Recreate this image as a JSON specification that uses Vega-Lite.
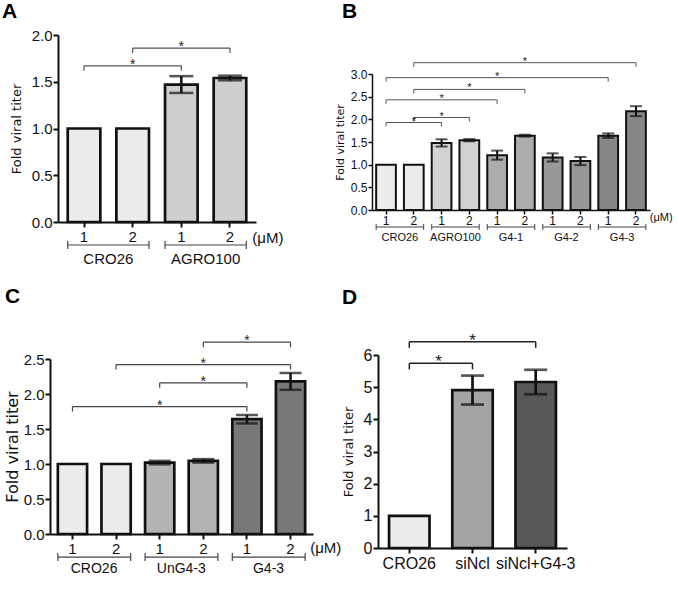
{
  "$schema": "https://vega.github.io/schema/vega-lite/v6.json",
  "padding": {"left": 2, "top": 1, "right": 0, "bottom": 0},
  "background": "white",
  "bounds": "flush",
  "spacing": 320,
  "resolve": {"scale": {"fill": "independent"}},
  "datasets": {
    "barsA": [
      {"bar": "CRO26 1", "group": "CRO26", "value": 1, "err": 0},
      {"bar": "CRO26 2", "group": "CRO26", "value": 1, "err": 0},
      {"bar": "AGRO100 1", "group": "AGRO100", "value": 1.47, "err": 0.09},
      {"bar": "AGRO100 2", "group": "AGRO100", "value": 1.54, "err": 0.025}
    ],
    "bracketsA": [
      {"from": "CRO26 1", "to": "AGRO100 1", "mid": "CRO26 2", "level": 1.67},
      {"from": "CRO26 2", "to": "AGRO100 2", "mid": "AGRO100 1", "level": 1.86}
    ],
    "groupsA": [
      {"group": "CRO26", "first": "CRO26 1", "last": "CRO26 2"},
      {"group": "AGRO100", "first": "AGRO100 1", "last": "AGRO100 2"}
    ],
    "barsB": [
      {"bar": "CRO26 1", "group": "CRO26", "value": 1, "err": 0},
      {"bar": "CRO26 2", "group": "CRO26", "value": 1, "err": 0},
      {"bar": "AGRO100 1", "group": "AGRO100", "value": 1.48, "err": 0.08},
      {"bar": "AGRO100 2", "group": "AGRO100", "value": 1.54, "err": 0.025},
      {"bar": "G4-1 1", "group": "G4-1", "value": 1.21, "err": 0.1},
      {"bar": "G4-1 2", "group": "G4-1", "value": 1.64, "err": 0.02},
      {"bar": "G4-2 1", "group": "G4-2", "value": 1.16, "err": 0.09},
      {"bar": "G4-2 2", "group": "G4-2", "value": 1.08, "err": 0.09},
      {"bar": "G4-3 1", "group": "G4-3", "value": 1.64, "err": 0.05},
      {"bar": "G4-3 2", "group": "G4-3", "value": 2.18, "err": 0.11}
    ],
    "bracketsB": [
      {"from": "CRO26 1", "to": "AGRO100 1", "mid": "CRO26 2", "level": 1.93},
      {"from": "CRO26 2", "to": "AGRO100 2", "mid": "AGRO100 1", "level": 2.04},
      {"from": "CRO26 1", "to": "G4-1 1", "mid": "AGRO100 1", "level": 2.43},
      {"from": "CRO26 2", "to": "G4-1 2", "mid": "AGRO100 2", "level": 2.66},
      {"from": "CRO26 1", "to": "G4-3 1", "mid": "G4-1 1", "level": 2.92},
      {"from": "CRO26 2", "to": "G4-3 2", "mid": "G4-1 2", "level": 3.25}
    ],
    "groupsB": [
      {"group": "CRO26", "first": "CRO26 1", "last": "CRO26 2"},
      {"group": "AGRO100", "first": "AGRO100 1", "last": "AGRO100 2"},
      {"group": "G4-1", "first": "G4-1 1", "last": "G4-1 2"},
      {"group": "G4-2", "first": "G4-2 1", "last": "G4-2 2"},
      {"group": "G4-3", "first": "G4-3 1", "last": "G4-3 2"}
    ],
    "barsC": [
      {"bar": "CRO26 1", "group": "CRO26", "value": 1, "err": 0},
      {"bar": "CRO26 2", "group": "CRO26", "value": 1, "err": 0},
      {"bar": "UnG4-3 1", "group": "UnG4-3", "value": 1.02, "err": 0.025},
      {"bar": "UnG4-3 2", "group": "UnG4-3", "value": 1.045, "err": 0.025},
      {"bar": "G4-3 1", "group": "G4-3", "value": 1.64, "err": 0.06},
      {"bar": "G4-3 2", "group": "G4-3", "value": 2.18, "err": 0.12}
    ],
    "bracketsC": [
      {"from": "CRO26 1", "to": "G4-3 1", "mid": "UnG4-3 1", "level": 1.82},
      {"from": "UnG4-3 1", "to": "G4-3 1", "mid": "UnG4-3 2", "level": 2.16},
      {"from": "CRO26 2", "to": "G4-3 2", "mid": "UnG4-3 2", "level": 2.42},
      {"from": "UnG4-3 2", "to": "G4-3 2", "mid": "G4-3 1", "level": 2.74}
    ],
    "groupsC": [
      {"group": "CRO26", "first": "CRO26 1", "last": "CRO26 2"},
      {"group": "UnG4-3", "first": "UnG4-3 1", "last": "UnG4-3 2"},
      {"group": "G4-3", "first": "G4-3 1", "last": "G4-3 2"}
    ],
    "barsD": [
      {"bar": "CRO26", "value": 1, "err": 0},
      {"bar": "siNcl", "value": 4.91, "err": 0.45},
      {"bar": "siNcl+G4-3", "value": 5.16, "err": 0.38}
    ],
    "bracketsD": [
      {"from": "CRO26", "to": "siNcl", "mid": "CRO26", "level": 5.74},
      {"from": "CRO26", "to": "siNcl+G4-3", "mid": "siNcl", "level": 6.41}
    ]
  },
  "vconcat": [
    {
      "bounds": "flush",
      "spacing": 116,
      "resolve": {"scale": {"fill": "independent"}},
      "hconcat": [
        {
          "width": 206,
          "height": 187,
          "title": {"text": "A", "anchor": "start", "frame": "group", "dx": -48, "fontSize": 21, "fontWeight": "bold", "offset": 6, "color": "#000"},
          "data": {"name": "barsA"},
          "layer": [
            {
              "mark": {"type": "bar", "stroke": "#111", "strokeWidth": 2.7},
              "encoding": {
                "x": {"field": "bar", "type": "nominal",
                  "scale": {"domain": ["CRO26 1", "CRO26 2", "AGRO100 1", "AGRO100 2"], "range": [8, 206], "paddingInner": 0.33, "paddingOuter": 0.2},
                  "axis": {"title": null, "labelExpr": "slice(datum.value, -1)", "labelAngle": 0, "labelFontSize": 15, "tickSize": 5, "tickWidth": 2, "domainWidth": 2, "labelPadding": 2}},
                "y": {"field": "value", "type": "quantitative", "title": "Fold viral titer",
                  "scale": {"domain": [0, 2], "nice": false},
                  "axis": {"values": [0, 0.5, 1, 1.5, 2], "tickCount": 20, "labelOverlap": false, "format": ".1f", "labelFontSize": 15, "tickSize": 5, "tickWidth": 2, "domainWidth": 2, "labelPadding": 1, "offset": -8, "titleFontSize": 13, "titlePadding": 8}},
                "fill": {"field": "group", "type": "nominal", "scale": {"domain": ["CRO26", "AGRO100"], "range": ["#ececec", "#cfcfcf"]}, "legend": null}
              }
            },
            {
              "transform": [{"filter": "datum.err > 0"}],
              "mark": {"type": "errorbar", "color": "#111", "ticks": {"size": 24, "thickness": 2.5}, "rule": {"strokeWidth": 2.5}},
              "encoding": {
                "x": {"field": "bar", "type": "nominal"},
                "y": {"field": "value", "type": "quantitative", "title": "Fold viral titer"},
                "yError": {"field": "err"}
              }
            },
            {
              "data": {"name": "bracketsA"},
              "mark": {"type": "rule", "color": "#555", "strokeWidth": 1.2},
              "encoding": {
                "x": {"field": "from", "type": "nominal", "bandPosition": 0.5},
                "x2": {"field": "to", "bandPosition": 0.5},
                "y": {"field": "level", "type": "quantitative", "title": "Fold viral titer"}
              }
            },
            {
              "data": {"name": "bracketsA"},
              "mark": {"type": "point", "shape": "M0,0L0,2", "size": 25, "filled": false, "stroke": "#555", "strokeWidth": 1.2, "opacity": 1},
              "encoding": {"x": {"field": "from", "type": "nominal"}, "y": {"field": "level", "type": "quantitative", "title": "Fold viral titer"}}
            },
            {
              "data": {"name": "bracketsA"},
              "mark": {"type": "point", "shape": "M0,0L0,2", "size": 25, "filled": false, "stroke": "#555", "strokeWidth": 1.2, "opacity": 1},
              "encoding": {"x": {"field": "to", "type": "nominal"}, "y": {"field": "level", "type": "quantitative", "title": "Fold viral titer"}}
            },
            {
              "data": {"name": "bracketsA"},
              "mark": {"type": "text", "text": "*", "fontSize": 14, "baseline": "alphabetic", "dy": 3, "color": "#222"},
              "encoding": {"x": {"field": "mid", "type": "nominal"}, "y": {"field": "level", "type": "quantitative", "title": "Fold viral titer"}}
            },
            {
              "data": {"name": "groupsA"},
              "mark": {"type": "rule", "color": "#444", "strokeWidth": 1.2},
              "encoding": {
                "x": {"field": "first", "type": "nominal", "bandPosition": 0},
                "x2": {"field": "last", "bandPosition": 1},
                "y": {"datum": -0.246}
              }
            },
            {
              "data": {"name": "groupsA"},
              "mark": {"type": "point", "shape": "M0,-1L0,1", "size": 64, "filled": false, "stroke": "#444", "strokeWidth": 1.2, "opacity": 1},
              "encoding": {"x": {"field": "first", "type": "nominal", "bandPosition": 0}, "y": {"datum": -0.246}}
            },
            {
              "data": {"name": "groupsA"},
              "mark": {"type": "point", "shape": "M0,-1L0,1", "size": 64, "filled": false, "stroke": "#444", "strokeWidth": 1.2, "opacity": 1},
              "encoding": {"x": {"field": "last", "type": "nominal", "bandPosition": 1}, "y": {"datum": -0.246}}
            },
            {
              "data": {"name": "groupsA"},
              "mark": {"type": "text", "fontSize": 15, "baseline": "middle", "align": "center", "dx": 8, "color": "#111"},
              "encoding": {"x": {"field": "first", "type": "nominal", "bandPosition": 1}, "y": {"datum": -0.4}, "text": {"field": "group"}}
            },
            {
              "data": {"values": [{"unit": "(μM)"}]},
              "mark": {"type": "text", "fontSize": 15, "baseline": "middle", "align": "left", "dx": 6, "color": "#111"},
              "encoding": {"x": {"datum": "AGRO100 2", "type": "nominal", "bandPosition": 1}, "y": {"datum": -0.171}, "text": {"field": "unit"}}
            }
          ]
        },
        {
          "width": 278,
          "height": 175,
          "title": {"text": "B", "anchor": "start", "frame": "group", "dx": -30, "fontSize": 21, "fontWeight": "bold", "offset": 13, "color": "#000"},
          "data": {"name": "barsB"},
          "layer": [
            {
              "mark": {"type": "bar", "stroke": "#111", "strokeWidth": 2},
              "encoding": {
                "x": {"field": "bar", "type": "nominal",
                  "scale": {"domain": ["CRO26 1", "CRO26 2", "AGRO100 1", "AGRO100 2", "G4-1 1", "G4-1 2", "G4-2 1", "G4-2 2", "G4-3 1", "G4-3 2"], "paddingInner": 0.29, "paddingOuter": 0.15},
                  "axis": {"title": null, "labelExpr": "slice(datum.value, -1)", "labelAngle": 0, "labelFontSize": 12, "tickSize": 4, "tickWidth": 1.5, "domainWidth": 1.5, "labelPadding": 1}},
                "y": {"field": "value", "type": "quantitative", "title": "Fold viral titer",
                  "scale": {"domain": [0, 3], "nice": false, "range": [175, 39]},
                  "axis": {"values": [0, 0.5, 1, 1.5, 2, 2.5, 3], "tickCount": 20, "labelOverlap": false, "format": ".1f", "labelFontSize": 12, "tickSize": 4, "tickWidth": 1.5, "domainWidth": 1.5, "labelPadding": 1, "titleFontSize": 11, "titlePadding": 5}},
                "fill": {"field": "group", "type": "nominal", "scale": {"domain": ["CRO26", "AGRO100", "G4-1", "G4-2", "G4-3"], "range": ["#ececec", "#d2d2d2", "#acacac", "#989898", "#878787"]}, "legend": null}
              }
            },
            {
              "transform": [{"filter": "datum.err > 0"}],
              "mark": {"type": "errorbar", "color": "#111", "ticks": {"size": 12, "thickness": 2}, "rule": {"strokeWidth": 2}},
              "encoding": {
                "x": {"field": "bar", "type": "nominal"},
                "y": {"field": "value", "type": "quantitative", "title": "Fold viral titer"},
                "yError": {"field": "err"}
              }
            },
            {
              "data": {"name": "bracketsB"},
              "mark": {"type": "rule", "color": "#555", "strokeWidth": 1},
              "encoding": {
                "x": {"field": "from", "type": "nominal", "bandPosition": 0.5},
                "x2": {"field": "to", "bandPosition": 0.5},
                "y": {"field": "level", "type": "quantitative", "title": "Fold viral titer"}
              }
            },
            {
              "data": {"name": "bracketsB"},
              "mark": {"type": "point", "shape": "M0,0L0,2", "size": 16, "filled": false, "stroke": "#555", "strokeWidth": 1, "opacity": 1},
              "encoding": {"x": {"field": "from", "type": "nominal"}, "y": {"field": "level", "type": "quantitative", "title": "Fold viral titer"}}
            },
            {
              "data": {"name": "bracketsB"},
              "mark": {"type": "point", "shape": "M0,0L0,2", "size": 16, "filled": false, "stroke": "#555", "strokeWidth": 1, "opacity": 1},
              "encoding": {"x": {"field": "to", "type": "nominal"}, "y": {"field": "level", "type": "quantitative", "title": "Fold viral titer"}}
            },
            {
              "data": {"name": "bracketsB"},
              "mark": {"type": "text", "text": "*", "fontSize": 11, "baseline": "alphabetic", "dy": 2, "color": "#222"},
              "encoding": {"x": {"field": "mid", "type": "nominal"}, "y": {"field": "level", "type": "quantitative", "title": "Fold viral titer"}}
            },
            {
              "data": {"name": "groupsB"},
              "mark": {"type": "rule", "color": "#444", "strokeWidth": 1},
              "encoding": {
                "x": {"field": "first", "type": "nominal", "bandPosition": 0},
                "x2": {"field": "last", "bandPosition": 1},
                "y": {"datum": -0.375}
              }
            },
            {
              "data": {"name": "groupsB"},
              "mark": {"type": "point", "shape": "M0,-1L0,1", "size": 36, "filled": false, "stroke": "#444", "strokeWidth": 1, "opacity": 1},
              "encoding": {"x": {"field": "first", "type": "nominal", "bandPosition": 0}, "y": {"datum": -0.375}}
            },
            {
              "data": {"name": "groupsB"},
              "mark": {"type": "point", "shape": "M0,-1L0,1", "size": 36, "filled": false, "stroke": "#444", "strokeWidth": 1, "opacity": 1},
              "encoding": {"x": {"field": "last", "type": "nominal", "bandPosition": 1}, "y": {"datum": -0.375}}
            },
            {
              "data": {"name": "groupsB"},
              "mark": {"type": "text", "fontSize": 11, "baseline": "middle", "align": "center", "dx": 4, "color": "#111"},
              "encoding": {"x": {"field": "first", "type": "nominal", "bandPosition": 1}, "y": {"datum": -0.62}, "text": {"field": "group"}}
            },
            {
              "data": {"values": [{"unit": "(μM)"}]},
              "mark": {"type": "text", "fontSize": 11, "baseline": "middle", "align": "left", "dx": 4, "color": "#111"},
              "encoding": {"x": {"datum": "G4-3 2", "type": "nominal", "bandPosition": 1}, "y": {"datum": -0.18}, "text": {"field": "unit"}}
            }
          ]
        }
      ]
    },
    {
      "bounds": "flush",
      "spacing": 65,
      "resolve": {"scale": {"fill": "independent"}},
      "hconcat": [
        {
          "width": 263,
          "height": 179,
          "title": {"text": "C", "anchor": "start", "frame": "group", "dx": -45, "fontSize": 21, "fontWeight": "bold", "offset": 27, "color": "#000"},
          "data": {"name": "barsC"},
          "layer": [
            {
              "mark": {"type": "bar", "stroke": "#111", "strokeWidth": 2.7},
              "encoding": {
                "x": {"field": "bar", "type": "nominal",
                  "scale": {"domain": ["CRO26 1", "CRO26 2", "UnG4-3 1", "UnG4-3 2", "G4-3 1", "G4-3 2"], "paddingInner": 0.33, "paddingOuter": 0.18},
                  "axis": {"title": null, "labelExpr": "slice(datum.value, -1)", "labelAngle": 0, "labelFontSize": 15, "tickSize": 5, "tickWidth": 2, "domainWidth": 2, "labelPadding": 2}},
                "y": {"field": "value", "type": "quantitative", "title": "Fold viral titer",
                  "scale": {"domain": [0, 2.5], "nice": false, "range": [179, 4]},
                  "axis": {"values": [0, 0.5, 1, 1.5, 2, 2.5], "tickCount": 20, "labelOverlap": false, "format": ".1f", "labelFontSize": 15, "tickSize": 5, "tickWidth": 2, "domainWidth": 2, "labelPadding": 1, "titleFontSize": 16, "titlePadding": 3}},
                "fill": {"field": "group", "type": "nominal", "scale": {"domain": ["CRO26", "UnG4-3", "G4-3"], "range": ["#ececec", "#b4b4b4", "#787878"]}, "legend": null}
              }
            },
            {
              "transform": [{"filter": "datum.err > 0"}],
              "mark": {"type": "errorbar", "color": "#111", "ticks": {"size": 22, "thickness": 2.5}, "rule": {"strokeWidth": 2.5}},
              "encoding": {
                "x": {"field": "bar", "type": "nominal"},
                "y": {"field": "value", "type": "quantitative", "title": "Fold viral titer"},
                "yError": {"field": "err"}
              }
            },
            {
              "data": {"name": "bracketsC"},
              "mark": {"type": "rule", "color": "#444", "strokeWidth": 1.2},
              "encoding": {
                "x": {"field": "from", "type": "nominal", "bandPosition": 0.5},
                "x2": {"field": "to", "bandPosition": 0.5},
                "y": {"field": "level", "type": "quantitative", "title": "Fold viral titer"}
              }
            },
            {
              "data": {"name": "bracketsC"},
              "mark": {"type": "point", "shape": "M0,0L0,2", "size": 25, "filled": false, "stroke": "#444", "strokeWidth": 1.2, "opacity": 1},
              "encoding": {"x": {"field": "from", "type": "nominal"}, "y": {"field": "level", "type": "quantitative", "title": "Fold viral titer"}}
            },
            {
              "data": {"name": "bracketsC"},
              "mark": {"type": "point", "shape": "M0,0L0,2", "size": 25, "filled": false, "stroke": "#444", "strokeWidth": 1.2, "opacity": 1},
              "encoding": {"x": {"field": "to", "type": "nominal"}, "y": {"field": "level", "type": "quantitative", "title": "Fold viral titer"}}
            },
            {
              "data": {"name": "bracketsC"},
              "mark": {"type": "text", "text": "*", "fontSize": 14, "baseline": "alphabetic", "dy": 3, "color": "#222"},
              "encoding": {"x": {"field": "mid", "type": "nominal"}, "y": {"field": "level", "type": "quantitative", "title": "Fold viral titer"}}
            },
            {
              "data": {"name": "groupsC"},
              "mark": {"type": "rule", "color": "#444", "strokeWidth": 1.2},
              "encoding": {
                "x": {"field": "first", "type": "nominal", "bandPosition": 0},
                "x2": {"field": "last", "bandPosition": 1},
                "y": {"datum": -0.33}
              }
            },
            {
              "data": {"name": "groupsC"},
              "mark": {"type": "point", "shape": "M0,-1L0,1", "size": 64, "filled": false, "stroke": "#444", "strokeWidth": 1.2, "opacity": 1},
              "encoding": {"x": {"field": "first", "type": "nominal", "bandPosition": 0}, "y": {"datum": -0.33}}
            },
            {
              "data": {"name": "groupsC"},
              "mark": {"type": "point", "shape": "M0,-1L0,1", "size": 64, "filled": false, "stroke": "#444", "strokeWidth": 1.2, "opacity": 1},
              "encoding": {"x": {"field": "last", "type": "nominal", "bandPosition": 1}, "y": {"datum": -0.33}}
            },
            {
              "data": {"name": "groupsC"},
              "mark": {"type": "text", "fontSize": 14, "baseline": "middle", "align": "center", "dx": 7, "color": "#111"},
              "encoding": {"x": {"field": "first", "type": "nominal", "bandPosition": 1}, "y": {"datum": -0.5}, "text": {"field": "group"}}
            },
            {
              "data": {"values": [{"unit": "(μM)"}]},
              "mark": {"type": "text", "fontSize": 15, "baseline": "middle", "align": "left", "dx": 5, "color": "#111"},
              "encoding": {"x": {"datum": "G4-3 2", "type": "nominal", "bandPosition": 1}, "y": {"datum": -0.2}, "text": {"field": "unit"}}
            }
          ]
        },
        {
          "width": 189,
          "height": 193,
          "title": {"text": "D", "anchor": "start", "frame": "group", "dx": -36, "fontSize": 21, "fontWeight": "bold", "offset": 24, "color": "#000"},
          "data": {"name": "barsD"},
          "layer": [
            {
              "mark": {"type": "bar", "stroke": "#111", "strokeWidth": 2.7},
              "encoding": {
                "x": {"field": "bar", "type": "nominal",
                  "scale": {"domain": ["CRO26", "siNcl", "siNcl+G4-3"], "paddingInner": 0.36, "paddingOuter": 0.175},
                  "axis": {"title": null, "labelAngle": 0, "labelFontSize": 16, "tickSize": 5, "tickWidth": 2, "domainWidth": 2, "labelPadding": 2}},
                "y": {"field": "value", "type": "quantitative", "title": "Fold viral titer",
                  "scale": {"domain": [0, 6], "nice": false},
                  "axis": {"values": [0, 1, 2, 3, 4, 5, 6], "tickCount": 20, "labelOverlap": false, "format": "d", "labelFontSize": 16, "tickSize": 5, "tickWidth": 2, "domainWidth": 2, "labelPadding": 1, "titleFontSize": 13, "titlePadding": 8}},
                "fill": {"field": "bar", "type": "nominal", "scale": {"domain": ["CRO26", "siNcl", "siNcl+G4-3"], "range": ["#ececec", "#a4a4a4", "#585858"]}, "legend": null}
              }
            },
            {
              "transform": [{"filter": "datum.err > 0"}],
              "mark": {"type": "errorbar", "color": "#111", "ticks": {"size": 23, "thickness": 2.7}, "rule": {"strokeWidth": 2.7}},
              "encoding": {
                "x": {"field": "bar", "type": "nominal"},
                "y": {"field": "value", "type": "quantitative", "title": "Fold viral titer"},
                "yError": {"field": "err"}
              }
            },
            {
              "data": {"name": "bracketsD"},
              "mark": {"type": "rule", "color": "#222", "strokeWidth": 1.5},
              "encoding": {
                "x": {"field": "from", "type": "nominal", "bandPosition": 0.5},
                "x2": {"field": "to", "bandPosition": 0.5},
                "y": {"field": "level", "type": "quantitative", "title": "Fold viral titer"}
              }
            },
            {
              "data": {"name": "bracketsD"},
              "mark": {"type": "point", "shape": "M0,0L0,2", "size": 36, "filled": false, "stroke": "#222", "strokeWidth": 1.5, "opacity": 1},
              "encoding": {"x": {"field": "from", "type": "nominal"}, "y": {"field": "level", "type": "quantitative", "title": "Fold viral titer"}}
            },
            {
              "data": {"name": "bracketsD"},
              "mark": {"type": "point", "shape": "M0,0L0,2", "size": 36, "filled": false, "stroke": "#222", "strokeWidth": 1.5, "opacity": 1},
              "encoding": {"x": {"field": "to", "type": "nominal"}, "y": {"field": "level", "type": "quantitative", "title": "Fold viral titer"}}
            },
            {
              "data": {"name": "bracketsD"},
              "transform": [{"filter": "datum.to == 'siNcl+G4-3'"}],
              "mark": {"type": "text", "text": "*", "fontSize": 17, "baseline": "alphabetic", "dy": 4, "color": "#222"},
              "encoding": {"x": {"field": "mid", "type": "nominal"}, "y": {"field": "level", "type": "quantitative", "title": "Fold viral titer"}}
            },
            {
              "data": {"name": "bracketsD"},
              "transform": [{"filter": "datum.to == 'siNcl'"}],
              "mark": {"type": "text", "text": "*", "fontSize": 17, "baseline": "alphabetic", "dy": 4, "dx": 9, "color": "#222"},
              "encoding": {"x": {"field": "mid", "type": "nominal", "bandPosition": 1}, "y": {"field": "level", "type": "quantitative", "title": "Fold viral titer"}}
            }
          ]
        }
      ]
    }
  ],
  "config": {
    "view": {"stroke": null},
    "font": "Liberation Sans",
    "title": {"font": "Liberation Sans"},
    "text": {"font": "Liberation Sans"},
    "axis": {"grid": false, "labelOverlap": false, "domainColor": "#111", "tickColor": "#111", "labelColor": "#111", "titleColor": "#111", "labelFont": "Liberation Sans", "titleFont": "DejaVu Sans", "titleFontWeight": "normal"}
  }
}
